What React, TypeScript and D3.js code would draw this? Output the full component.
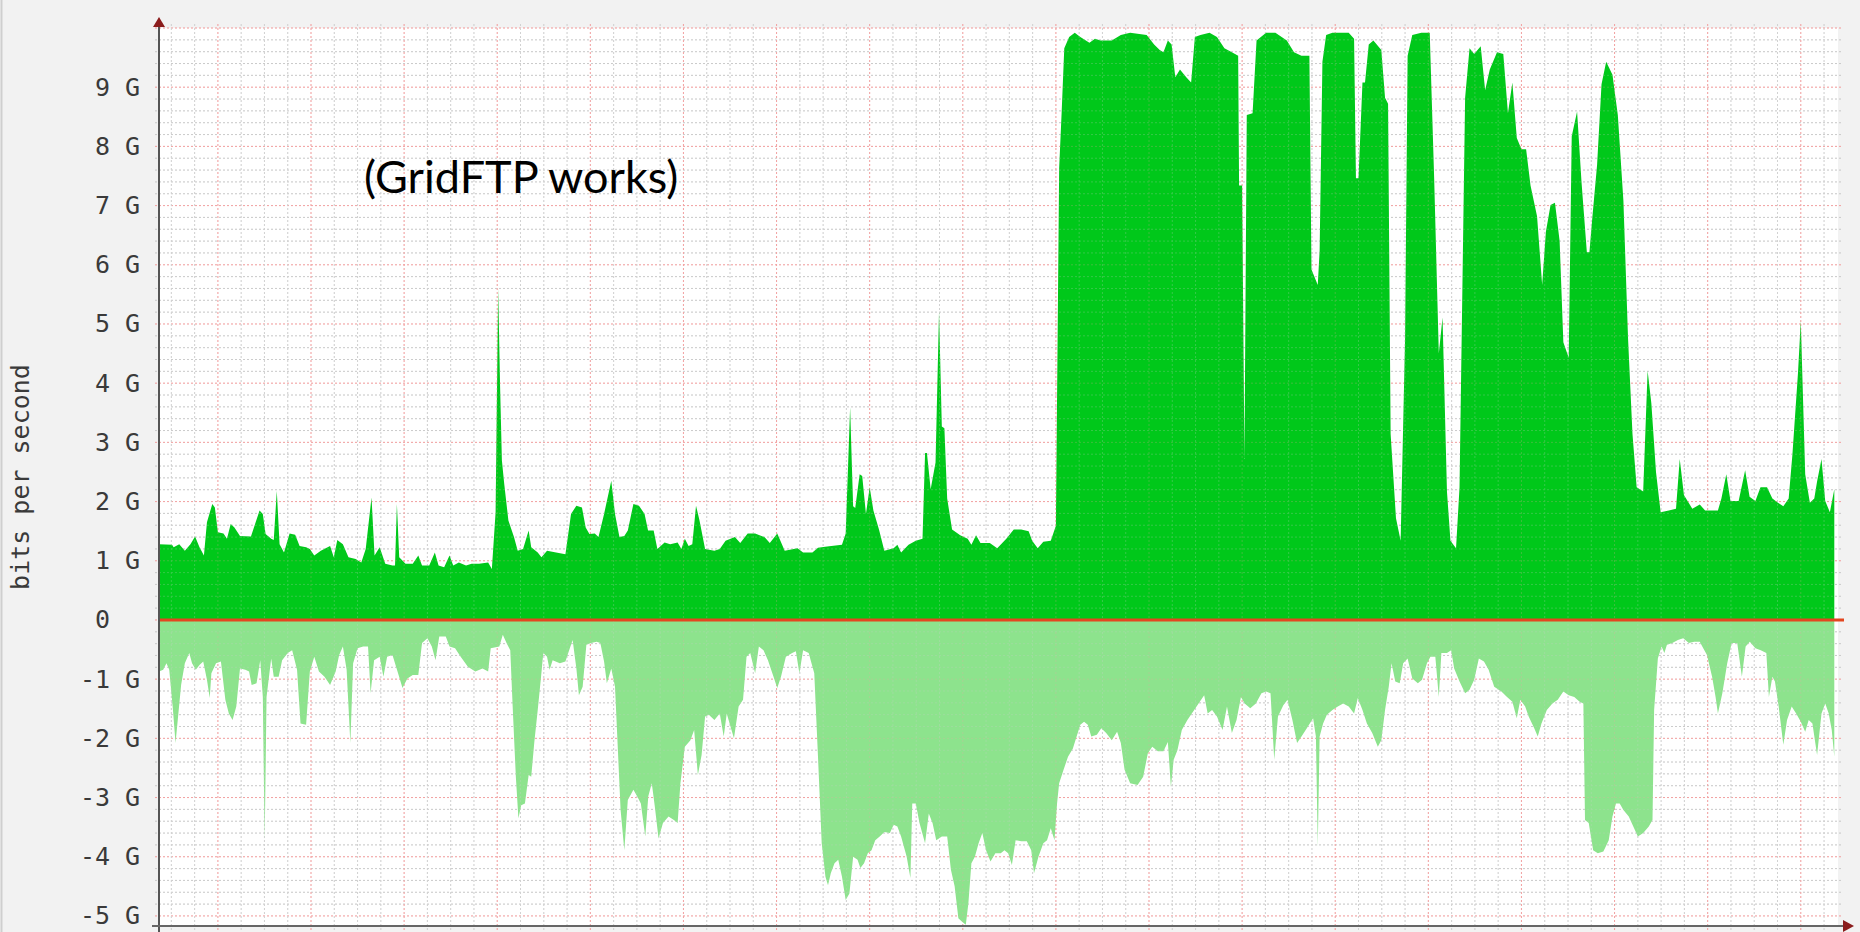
import * as d3 from 'd3';

// hours on the clock; red grid every 4 h, grey every hour
const START_HOUR = 1.47;
const END_HOUR = 73.47;
const Y_MIN = -5.17;
const Y_MAX = 10;
const yTickValues = [9, 8, 7, 6, 5, 4, 3, 2, 1, 0, -1, -2, -3, -4, -5];
const yAxisTitle = 'bits per second';
const note = '(GridFTP works)';

// inbound traffic (Gbit/s), [hour, value]
const inDay1: [number, number][] = [
  [1.47, 1.28], [2.03, 1.27], [2.1, 1.23], [2.34, 1.28], [2.58, 1.17], [2.82, 1.28], [3.02, 1.41], [3.21, 1.23],
  [3.4, 1.09], [3.53, 1.65], [3.76, 1.96], [3.87, 1.9], [4.0, 1.48], [4.24, 1.46], [4.39, 1.37], [4.55, 1.62],
  [4.71, 1.56], [4.95, 1.42], [5.42, 1.41], [5.79, 1.85], [5.93, 1.79], [6.05, 1.45], [6.29, 1.37], [6.4, 1.35],
  [6.53, 2.18], [6.65, 1.28], [6.84, 1.14], [7.08, 1.46], [7.32, 1.44], [7.51, 1.25], [7.79, 1.23], [7.95, 1.2],
  [8.14, 1.09], [8.42, 1.17], [8.82, 1.25], [8.98, 1.06], [9.13, 1.35], [9.37, 1.28], [9.61, 1.06], [9.92, 1.03],
  [10.16, 0.97], [10.35, 1.2], [10.6, 2.07], [10.73, 1.09], [10.95, 1.23], [11.19, 0.95], [11.5, 0.92], [11.61, 0.92],
  [11.69, 1.96], [11.79, 1.06], [12.06, 0.95], [12.37, 0.95], [12.61, 1.09], [12.77, 0.92], [13.08, 0.92], [13.32, 1.14],
  [13.48, 0.92], [13.72, 0.89], [13.95, 1.09], [14.11, 0.92], [14.35, 0.97], [14.66, 0.92], [14.9, 0.95], [15.22, 0.95],
  [15.61, 0.97], [15.77, 0.86], [15.93, 1.82], [16.04, 5.6], [16.12, 4.0], [16.2, 2.7], [16.3, 2.3], [16.48, 1.68],
  [16.72, 1.4], [16.88, 1.17], [17.11, 1.2], [17.35, 1.51], [17.46, 1.23], [17.74, 1.14], [17.9, 1.06], [18.14, 1.17],
  [18.53, 1.14], [18.93, 1.11], [19.17, 1.79], [19.4, 1.93], [19.64, 1.9], [19.8, 1.56], [19.96, 1.45], [20.19, 1.46],
  [20.35, 1.4], [20.59, 1.79], [20.9, 2.35], [21.06, 1.79], [21.25, 1.4], [21.46, 1.42], [21.61, 1.51], [21.85, 1.96],
  [22.09, 1.93], [22.33, 1.79], [22.48, 1.51], [22.72, 1.51], [22.88, 1.2], [23.19, 1.31], [23.43, 1.28], [23.75, 1.31],
  [23.91, 1.2], [24.06, 1.37], [24.22, 1.25], [24.38, 1.28], [24.54, 1.93], [24.69, 1.68], [24.93, 1.2], [25.33, 1.17],
  [25.56, 1.2],
];

const inDay2: [number, number][] = [
  [25.81, 1.34], [26.21, 1.4], [26.44, 1.3], [26.76, 1.46], [27.08, 1.46], [27.48, 1.4], [27.71, 1.3], [28.03, 1.46],
  [28.35, 1.17], [28.9, 1.21], [29.14, 1.14], [29.54, 1.14], [29.78, 1.22], [30.17, 1.24], [30.81, 1.27], [30.97, 1.46],
  [31.16, 3.59], [31.29, 1.92], [31.38, 1.89], [31.57, 2.46], [31.68, 2.43], [31.84, 1.79], [32.0, 2.24], [32.16, 1.85],
  [32.4, 1.53], [32.63, 1.17], [33.03, 1.21], [33.19, 1.27], [33.35, 1.14], [33.67, 1.27], [33.98, 1.34], [34.27, 1.37],
  [34.38, 2.82], [34.46, 2.82], [34.62, 2.21], [34.83, 2.66], [34.98, 5.21], [35.1, 3.27], [35.21, 3.24], [35.33, 2.05],
  [35.54, 1.53], [35.89, 1.43], [36.21, 1.37], [36.37, 1.27], [36.57, 1.43], [36.76, 1.3], [37.16, 1.3], [37.48, 1.21],
  [37.87, 1.37], [38.19, 1.53], [38.51, 1.53], [38.83, 1.5], [38.98, 1.34], [39.22, 1.21], [39.46, 1.32], [39.78, 1.34],
  [40.0, 1.59], [40.14, 7.63], [40.25, 8.6], [40.36, 9.66], [40.57, 9.85], [40.81, 9.92], [41.05, 9.85], [41.44, 9.75],
  [41.68, 9.82], [41.92, 9.79], [42.4, 9.79], [42.79, 9.88], [43.19, 9.92], [43.9, 9.88], [44.22, 9.72], [44.46, 9.63],
  [44.62, 9.59], [44.81, 9.79], [44.97, 9.72], [45.13, 9.17], [45.33, 9.3], [45.6, 9.17], [45.81, 9.08], [45.97, 9.85],
  [46.21, 9.88], [46.6, 9.92], [46.92, 9.85], [47.24, 9.66], [47.56, 9.59], [47.83, 9.53], [47.87, 7.34], [48.0, 7.34],
  [48.1, 2.72], [48.2, 8.53], [48.45, 8.56], [48.62, 9.79], [49.03, 9.92], [49.43, 9.92],
];

const inDay3: [number, number][] = [
  [49.92, 9.79], [50.23, 9.59], [50.55, 9.53], [50.89, 9.53], [50.98, 5.92], [51.25, 5.66], [51.33, 6.24], [51.45, 9.43],
  [51.61, 9.88], [51.88, 9.92], [52.58, 9.92], [52.81, 9.82], [52.89, 7.46], [53.0, 7.46], [53.17, 9.08], [53.28, 9.08],
  [53.44, 9.72], [53.64, 9.79], [53.98, 9.63], [54.14, 8.82], [54.27, 8.72], [54.38, 3.14], [54.61, 1.72], [54.81, 1.34],
  [55.0, 4.75], [55.11, 9.53], [55.31, 9.88], [55.7, 9.92], [56.06, 9.92], [56.25, 7.46], [56.45, 4.5], [56.61, 5.11],
  [56.8, 2.17], [56.95, 1.34], [57.19, 1.21], [57.34, 2.24], [57.58, 8.82], [57.77, 9.66], [57.97, 9.56], [58.25, 9.69],
  [58.44, 8.95], [58.64, 9.3], [58.95, 9.59], [59.22, 9.56], [59.42, 8.56], [59.61, 9.08], [59.8, 8.14], [60.0, 7.95],
  [60.2, 7.95], [60.39, 7.34], [60.67, 6.82], [60.89, 5.66], [61.05, 6.56], [61.25, 7.01], [61.44, 7.05], [61.64, 6.4],
  [61.8, 4.69], [62.03, 4.43], [62.16, 8.17], [62.39, 8.59], [62.58, 7.4], [62.81, 6.21], [62.92, 6.21], [63.05, 6.82],
  [63.25, 7.69], [63.44, 9.05], [63.64, 9.43], [63.91, 9.21], [64.14, 8.53], [64.38, 7.08], [64.58, 4.75], [64.77, 3.14],
  [64.95, 2.24], [65.23, 2.17], [65.42, 4.21], [65.58, 3.66], [65.78, 2.5], [65.98, 1.82], [66.33, 1.85], [66.64, 1.88],
  [66.8, 2.72], [66.98, 2.11], [67.34, 1.88], [67.66, 1.95], [67.89, 1.85], [68.44, 1.85], [68.59, 2.05], [68.8, 2.46],
  [68.98, 2.01], [69.33, 2.01], [69.61, 2.53], [69.8, 2.08], [70.05, 2.01], [70.27, 2.24], [70.55, 2.24], [70.78, 2.05],
  [71.02, 1.98], [71.25, 1.92], [71.48, 2.05], [71.64, 2.79], [71.88, 4.17], [72.0, 5.05], [72.19, 2.46], [72.39, 1.98],
  [72.58, 2.05], [72.7, 2.34], [72.89, 2.72], [73.05, 2.01], [73.25, 1.82], [73.44, 2.21],
];

// outbound traffic (drawn below zero)
const outDay1: [number, number][] = [
  [1.47, -0.87], [1.65, -0.84], [1.79, -0.73], [1.91, -0.84], [2.07, -1.52], [2.18, -2.08], [2.29, -1.63], [2.42, -1.1],
  [2.58, -0.73], [2.77, -0.56], [2.89, -0.73], [3.05, -0.84], [3.21, -0.76], [3.37, -0.7], [3.53, -1.01], [3.65, -1.32],
  [3.72, -0.9], [3.92, -0.73], [4.13, -0.7], [4.32, -1.35], [4.47, -1.58], [4.63, -1.69], [4.79, -1.46], [4.95, -0.82],
  [5.18, -0.84], [5.34, -0.87], [5.45, -1.1], [5.66, -1.07], [5.82, -0.68], [5.93, -1.3], [6.01, -3.72], [6.09, -1.3],
  [6.29, -0.65], [6.4, -0.96], [6.61, -0.96], [6.76, -0.68], [7.0, -0.56], [7.19, -0.51], [7.4, -0.84], [7.55, -1.75],
  [7.79, -1.77], [7.95, -0.87], [8.14, -0.62], [8.34, -0.87], [8.58, -0.96], [8.82, -1.1], [9.06, -0.87], [9.21, -0.59],
  [9.37, -0.45], [9.53, -0.84], [9.69, -2.08], [9.81, -0.73], [10.0, -0.48], [10.24, -0.45], [10.45, -0.45], [10.56, -1.24],
  [10.71, -0.68], [10.95, -0.62], [11.11, -0.96], [11.27, -0.62], [11.5, -0.59], [11.74, -0.9], [11.93, -1.15], [12.14, -0.99],
  [12.37, -0.93], [12.61, -0.93], [12.77, -0.39], [13.0, -0.31], [13.19, -0.45], [13.35, -0.68], [13.51, -0.28], [13.79, -0.28],
  [13.95, -0.45], [14.19, -0.48], [14.43, -0.62], [14.74, -0.79], [15.06, -0.87], [15.37, -0.82], [15.61, -0.87], [15.72, -0.48],
  [16.09, -0.45], [16.24, -0.25], [16.4, -0.39], [16.56, -0.51], [16.67, -1.52], [16.8, -2.65], [16.91, -3.35], [17.03, -3.13],
  [17.19, -3.1], [17.35, -2.62], [17.46, -2.65], [17.59, -2.08], [17.74, -1.52], [17.87, -1.01], [17.98, -0.56], [18.14, -0.62],
  [18.25, -0.84], [18.38, -0.68], [18.69, -0.73], [18.93, -0.7], [19.09, -0.51], [19.24, -0.34], [19.4, -0.82], [19.51, -1.27],
  [19.67, -1.13], [19.83, -0.42], [20.03, -0.39], [20.27, -0.37], [20.43, -0.39], [20.59, -0.7], [20.71, -1.07], [20.9, -0.82],
  [21.06, -1.13], [21.19, -2.25], [21.3, -3.21], [21.46, -3.89], [21.61, -3.04], [21.85, -2.87], [22.01, -2.98], [22.17, -3.1],
  [22.36, -3.66], [22.49, -2.98], [22.64, -2.76], [22.77, -3.15], [22.93, -3.69], [23.12, -3.43], [23.36, -3.32], [23.59, -3.38],
  [23.75, -3.43], [23.87, -2.76], [24.06, -2.14], [24.3, -2.03], [24.46, -1.86], [24.62, -2.62], [24.78, -2.28], [24.93, -1.63],
  [25.09, -1.6], [25.33, -1.69], [25.56, -1.58],
];

const outDay2: [number, number][] = [
  [25.73, -1.97], [25.86, -1.58], [26.02, -1.8], [26.17, -2.0], [26.37, -1.46], [26.56, -1.35], [26.71, -0.62], [26.87, -0.56],
  [27.08, -0.9], [27.24, -0.45], [27.44, -0.51], [27.63, -0.68], [27.87, -0.96], [28.03, -1.15], [28.19, -0.96], [28.4, -0.62],
  [28.67, -0.56], [28.83, -0.53], [28.98, -0.9], [29.14, -0.51], [29.38, -0.56], [29.62, -0.9], [29.78, -2.31], [29.94, -3.77],
  [30.1, -4.34], [30.21, -4.48], [30.33, -4.28], [30.49, -4.11], [30.65, -4.05], [30.81, -4.34], [30.97, -4.73], [31.13, -4.62],
  [31.29, -4.0], [31.48, -4.05], [31.6, -4.19], [31.76, -4.11], [31.92, -3.94], [32.08, -3.89], [32.24, -3.72], [32.43, -3.66],
  [32.63, -3.58], [32.87, -3.6], [33.03, -3.46], [33.19, -3.49], [33.35, -3.66], [33.59, -4.0], [33.75, -4.36], [33.83, -3.1],
  [33.98, -3.1], [34.14, -3.43], [34.38, -3.77], [34.54, -3.27], [34.7, -3.43], [34.86, -3.72], [35.1, -3.66], [35.33, -3.66],
  [35.49, -4.22], [35.65, -4.5], [35.81, -5.04], [35.97, -5.1], [36.13, -5.15], [36.24, -4.79], [36.37, -4.11], [36.52, -4.0],
  [36.68, -3.77], [36.84, -3.6], [37.0, -3.89], [37.19, -4.08], [37.4, -3.94], [37.63, -3.94], [37.79, -3.89], [37.95, -3.94],
  [38.11, -4.14], [38.27, -3.72], [38.51, -3.74], [38.75, -3.74], [38.94, -3.89], [39.06, -4.28], [39.25, -4.0], [39.46, -3.77],
  [39.62, -3.72], [39.78, -3.52], [39.94, -3.72], [40.05, -3.1], [40.14, -2.76], [40.33, -2.53], [40.52, -2.31], [40.73, -2.17],
  [40.89, -1.97], [41.05, -1.77], [41.21, -1.72], [41.37, -1.77], [41.52, -1.97], [41.76, -1.94], [41.95, -1.83], [42.16, -1.91],
  [42.4, -2.03], [42.63, -1.89], [42.79, -2.08], [42.95, -2.53], [43.19, -2.76], [43.51, -2.79], [43.75, -2.65], [43.95, -2.25],
  [44.14, -2.14], [44.38, -2.22], [44.62, -2.22], [44.81, -2.06], [44.94, -2.82], [45.06, -2.36], [45.22, -2.2], [45.41, -1.86],
  [45.65, -1.69], [45.89, -1.55], [46.13, -1.41], [46.37, -1.27], [46.52, -1.58], [46.71, -1.52], [46.92, -1.63], [47.16, -1.86],
  [47.35, -1.46], [47.56, -1.91], [47.76, -1.69], [47.95, -1.3], [48.11, -1.41], [48.35, -1.49], [48.59, -1.41], [48.83, -1.24],
  [49.03, -1.21], [49.22, -1.24], [49.38, -2.36], [49.54, -1.63],
];

const outDay3: [number, number][] = [
  [49.77, -1.44], [49.95, -1.35], [50.16, -1.69], [50.36, -2.08], [50.55, -1.97], [50.78, -1.83], [51.05, -1.66], [51.17, -1.97],
  [51.25, -3.83], [51.33, -1.97], [51.48, -1.75], [51.64, -1.6], [51.88, -1.52], [52.11, -1.46], [52.34, -1.41], [52.58, -1.46],
  [52.81, -1.58], [52.97, -1.32], [53.17, -1.52], [53.36, -1.75], [53.59, -1.91], [53.83, -2.14], [53.98, -2.03], [54.14, -1.52],
  [54.3, -1.13], [54.42, -0.73], [54.58, -1.04], [54.77, -1.07], [54.92, -0.73], [55.11, -0.65], [55.31, -0.99], [55.55, -1.07],
  [55.73, -1.01], [55.94, -0.73], [56.09, -0.62], [56.3, -0.62], [56.45, -1.3], [56.56, -0.56], [56.8, -0.56], [56.98, -0.51],
  [57.11, -0.82], [57.34, -1.04], [57.58, -1.24], [57.77, -1.18], [57.97, -1.01], [58.17, -0.65], [58.39, -0.7], [58.59, -0.84],
  [58.83, -1.13], [59.14, -1.21], [59.38, -1.3], [59.61, -1.38], [59.8, -1.66], [59.95, -1.35], [60.16, -1.46], [60.31, -1.63],
  [60.55, -1.83], [60.7, -1.97], [60.86, -1.75], [61.09, -1.52], [61.33, -1.41], [61.56, -1.35], [61.8, -1.21], [62.03, -1.27],
  [62.27, -1.3], [62.5, -1.38], [62.66, -1.41], [62.73, -3.38], [62.89, -3.43], [63.08, -3.89], [63.28, -3.94], [63.52, -3.91],
  [63.75, -3.72], [63.91, -3.32], [64.06, -3.1], [64.22, -3.1], [64.38, -3.21], [64.61, -3.32], [64.84, -3.52], [65.0, -3.66],
  [65.23, -3.6], [65.47, -3.49], [65.63, -3.38], [65.7, -1.52], [65.86, -0.65], [66.02, -0.45], [66.14, -0.56], [66.25, -0.42],
  [66.48, -0.39], [66.72, -0.34], [66.95, -0.31], [67.19, -0.39], [67.42, -0.37], [67.66, -0.37], [67.81, -0.48], [67.97, -0.59],
  [68.19, -0.96], [68.34, -1.3], [68.44, -1.58], [68.63, -1.24], [68.84, -0.73], [69.03, -0.39], [69.27, -0.39], [69.47, -0.96],
  [69.63, -0.45], [69.81, -0.37], [70.05, -0.48], [70.28, -0.51], [70.52, -0.56], [70.63, -1.3], [70.78, -0.96], [70.89, -1.04],
  [71.05, -1.46], [71.25, -2.11], [71.41, -1.69], [71.61, -1.46], [71.8, -1.58], [72.0, -1.72], [72.19, -1.89], [72.34, -1.69],
  [72.5, -1.75], [72.7, -2.28], [72.89, -1.58], [73.05, -1.41], [73.2, -1.58], [73.33, -1.86], [73.44, -2.31],
];

const inbound = [...inDay1, ...inDay2, ...inDay3];
const outbound = [...outDay1, ...outDay2, ...outDay3];

const W = 1860;
const H = 932;

export default function App() {
  const x = d3.scaleLinear().domain([START_HOUR, END_HOUR]).range([159, 1835]);
  const y = d3.scaleLinear().domain([Y_MIN, Y_MAX]).range([926, 28]);

  const area = d3
    .area<[number, number]>()
    .x(d => x(d[0]))
    .y0(y(0))
    .y1(d => y(d[1]));

  const hours = d3.range(Math.ceil(START_HOUR), Math.floor(END_HOUR) + 1);
  const levels = d3.range(-25, 51).map(i => i / 5);

  const plotLeft = x(START_HOUR);
  const plotRight = x(END_HOUR) + 3;

  const grid = (op: number) => (
    <g opacity={op}>
      {levels.map(v => {
        const major = Math.abs(v - Math.round(v)) < 1e-6;
        return (
          <line
            key={'h' + v}
            x1={plotLeft - 4}
            x2={plotRight + 3}
            y1={y(v)}
            y2={y(v)}
            stroke={major ? '#f2a3a3' : '#cccccc'}
            strokeWidth={1}
            strokeDasharray="2 2"
          />
        );
      })}
      {hours.map(h => (
        <line
          key={'v' + h}
          x1={x(h)}
          x2={x(h)}
          y1={24}
          y2={H}
          stroke={h % 4 === 0 ? '#f2a3a3' : '#d2d2d2'}
          strokeWidth={1}
          strokeDasharray="2 2"
        />
      ))}
    </g>
  );

  return (
    <div>
      <style>{'body{margin:0}'}</style>
      <svg width={W} height={H} style={{ display: 'block' }}>
        <rect width={W} height={H} fill="#f2f2f2" />
        <line x1={1.5} x2={1.5} y1={0} y2={H} stroke="#cfcfcf" strokeWidth={2} />
        <rect x={plotLeft} y={y(Y_MAX)} width={plotRight - plotLeft} height={y(Y_MIN) - y(Y_MAX)} fill="#fff" />
        {grid(1)}

        <path d={area(outbound) ?? ''} fill="#8de38d" />
        <path d={area(inbound) ?? ''} fill="#00c81a" />
        {grid(0.25)}

        <line x1={plotLeft} x2={plotRight + 6} y1={y(0)} y2={y(0)} stroke="#e3461f" strokeWidth={3} />

        {/* axes */}
        <line x1={plotLeft} x2={plotLeft} y1={26} y2={H} stroke="#555" strokeWidth={2} />
        <line x1={plotLeft - 7} x2={1846} y1={y(Y_MIN)} y2={y(Y_MIN)} stroke="#666" strokeWidth={2} />
        <path d={`M${plotLeft - 6},27 L${plotLeft},17 L${plotLeft + 6},27 Z`} fill="#8b1c1c" />
        <path d={`M1843,${y(Y_MIN) - 6} L1854,${y(Y_MIN)} L1843,${y(Y_MIN) + 6} Z`} fill="#8b1c1c" />

        <g fontFamily="'DejaVu Sans Mono', monospace" fontSize={25} fill="#3a3a3a">
          {yTickValues.map(v => (
            <g key={v}>
              <text x={110} y={y(v)} dy="0.34em" textAnchor="end">
                {String(v)}
              </text>
              {v !== 0 && (
                <text x={125} y={y(v)} dy="0.34em">
                  G
                </text>
              )}
            </g>
          ))}
          <text transform={`translate(29,${(y(Y_MAX) + y(Y_MIN)) / 2}) rotate(-90)`} textAnchor="middle">
            {yAxisTitle}
          </text>
        </g>

        <text x={364} y={193} fontFamily="Lato, 'Open Sans', sans-serif" fontSize={45} fill="#000">
          {note}
        </text>
      </svg>
    </div>
  );
}
